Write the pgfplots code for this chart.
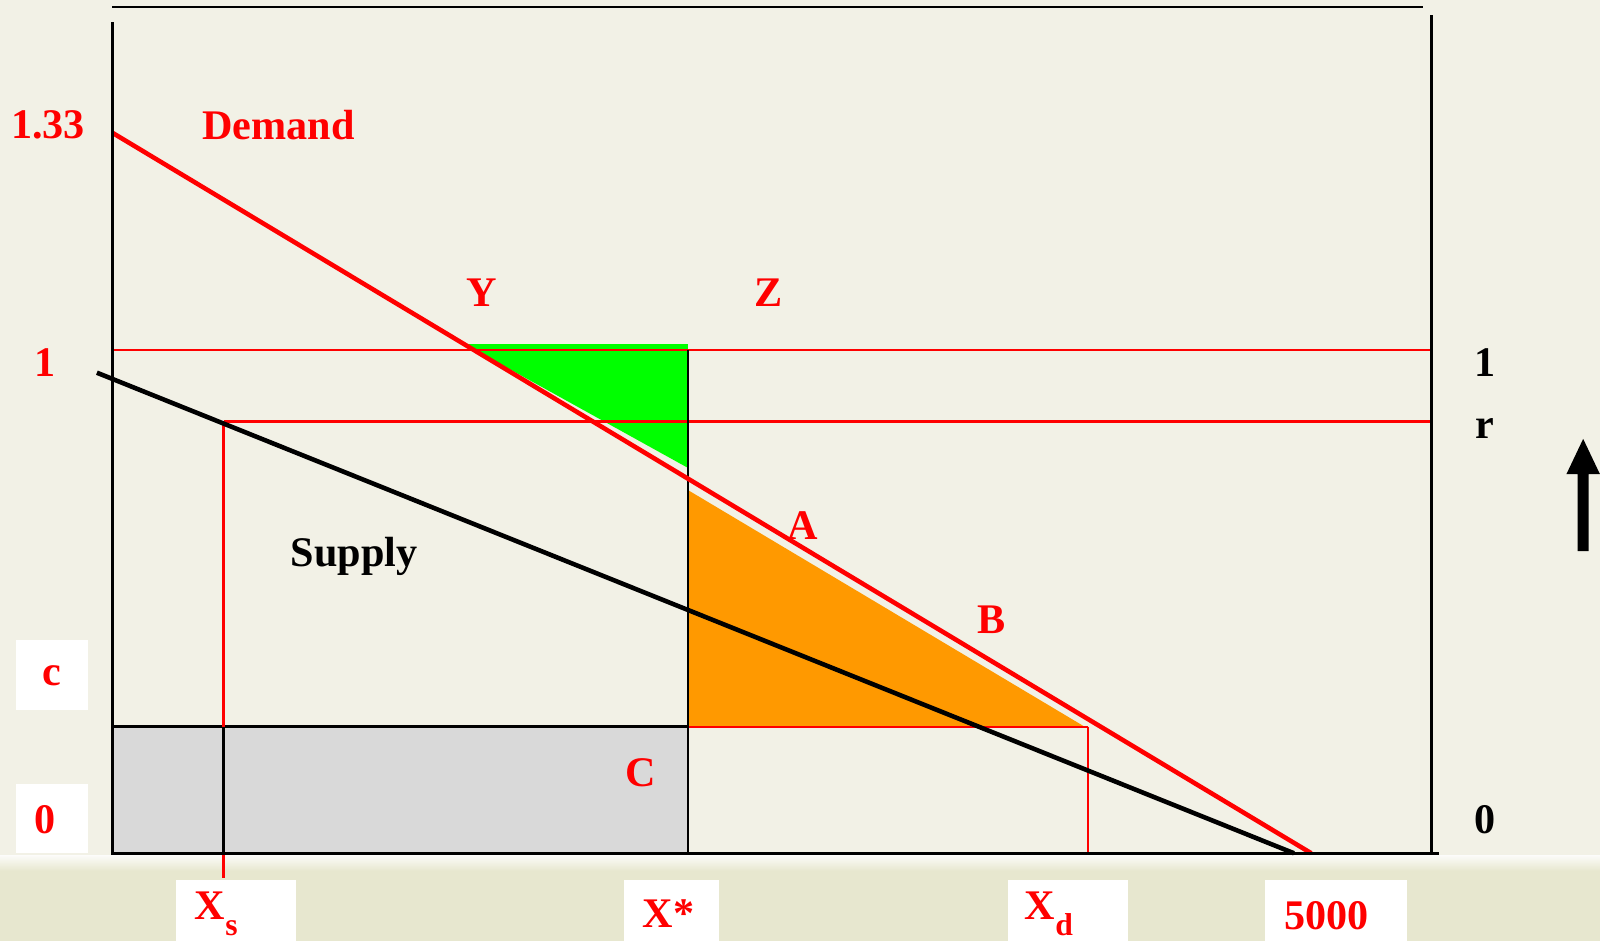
\documentclass[border=0pt]{standalone}
\usepackage{pgfplots}
\pgfplotsset{compat=1.18}
\usepackage{fontspec}
\setmainfont{Liberation Serif}
\definecolor{bg}{HTML}{F2F1E6}
\definecolor{band}{HTML}{E7E7CF}
\definecolor{greyfill}{HTML}{D9D9D9}
\definecolor{orng}{HTML}{FF9900}
\definecolor{grn}{HTML}{00FF00}
\tikzset{lbl/.style={font=\fontsize{12}{14}\selectfont\bfseries, text=red, inner sep=0pt},
         blbl/.style={font=\fontsize{12}{14}\selectfont\bfseries, text=black, inner sep=0pt}}
\begin{document}
\begin{tikzpicture}
\begin{axis}[scale only axis, width=16cm, height=9.41cm,
  xmin=-468.1, xmax=6204.3, ymin=-0.1744, ymax=1.6957,
  hide axis, clip=false]
% background
\fill[bg] (axis cs:-468.1,-0.01) rectangle (axis cs:6204.3,1.6957);
\shade[top color=white!70!bg, bottom color=band] (axis cs:-468.1,-0.005) rectangle (axis cs:6204.3,-0.035);
\fill[band] (axis cs:-468.1,-0.035) rectangle (axis cs:6204.3,-0.1744);
% shaded areas
\addplot[fill=greyfill, draw=black, line width=0.7pt] coordinates {(0,0) (2400,0) (2400,0.2515) (0,0.2515)} -- cycle;
\addplot[fill=orng, draw=none] coordinates {(2400,0.722) (2400,0.2515) (4055,0.2515)} -- cycle;
\addplot[fill=grn, draw=none] coordinates {(1468,1.012) (2400,1.012) (2400,0.766)} -- cycle;
% thin lines
\addplot[red, line width=0.6pt] coordinates {(0,1) (5502,1)};
\addplot[red, line width=0.6pt] coordinates {(464,0.858) (5502,0.858)};
\addplot[red, line width=0.6pt] coordinates {(464,0.858) (464,-0.049)};
\addplot[black, line width=0.6pt] coordinates {(464,0.2515) (464,0)};
\addplot[red, line width=0.6pt] coordinates {(2400,0.2515) (4068,0.2515)};
\addplot[red, line width=0.6pt] coordinates {(4068,0.2515) (4068,0)};
\addplot[black, line width=0.7pt] coordinates {(2400,1) (2400,0)};
% curves
\addplot[red, line width=1.3pt] coordinates {(0,1.432) (5000,0)};
\addplot[black, line width=1.3pt] coordinates {(-64,0.955) (4928,0)};
% frame
\addplot[black, line width=0.75pt] coordinates {(0,1.651) (0,0) (5532,0)};
\addplot[black, line width=0.75pt] coordinates {(5502,1.665) (5502,0)};
\addplot[black, line width=0.75pt] coordinates {(0,1.6815) (5468,1.6815)};
% white boxes
\fill[white] (axis cs:-400,0.424) rectangle (axis cs:-102,0.284);
\fill[white] (axis cs:-400,0.138) rectangle (axis cs:-102,0);
\fill[white] (axis cs:264,-0.0527) rectangle (axis cs:766,-0.1744);
\fill[white] (axis cs:2136,-0.0527) rectangle (axis cs:2532,-0.1744);
\fill[white] (axis cs:3736,-0.0527) rectangle (axis cs:4234,-0.1744);
\fill[white] (axis cs:4809,-0.0527) rectangle (axis cs:5400,-0.1744);
% arrow
\fill[black] (axis cs:6111,0.6004) -- (axis cs:6157,0.6004) -- (axis cs:6157,0.7533) -- (axis cs:6204,0.7533) -- (axis cs:6134,0.8235) -- (axis cs:6064,0.7533) -- (axis cs:6111,0.7533) -- cycle;
% labels
\node[lbl] at (axis cs:-268,1.448) {1.33};
\node[lbl] at (axis cs:694,1.448) {Demand};
\node[lbl] at (axis cs:-281,0.976) {1};
\node[lbl] at (axis cs:1540,1.114) {Y};
\node[lbl] at (axis cs:2736,1.114) {Z};
\node[lbl] at (axis cs:2881,0.651) {A};
\node[lbl] at (axis cs:3668,0.4645) {B};
\node[blbl] at (axis cs:1009,0.590) {Supply};
\node[lbl] at (axis cs:2204,0.160) {C};
\node[lbl] at (axis cs:-251,0.353) {c};
\node[lbl] at (axis cs:-281,0.067) {0};
\node[blbl] at (axis cs:5723,0.976) {1};
\node[blbl] at (axis cs:5723,0.844) {r};
\node[blbl] at (axis cs:5723,0.067) {0};
\node[lbl] at (axis cs:434,-0.120) {X\raisebox{-0.8ex}{\fontsize{9}{10}\selectfont s}};
\node[lbl] at (axis cs:2319,-0.120) {X*};
\node[lbl] at (axis cs:3906,-0.120) {X\raisebox{-0.8ex}{\fontsize{9}{10}\selectfont d}};
\node[lbl] at (axis cs:5064,-0.124) {5000};
\end{axis}
\end{tikzpicture}
\end{document}
